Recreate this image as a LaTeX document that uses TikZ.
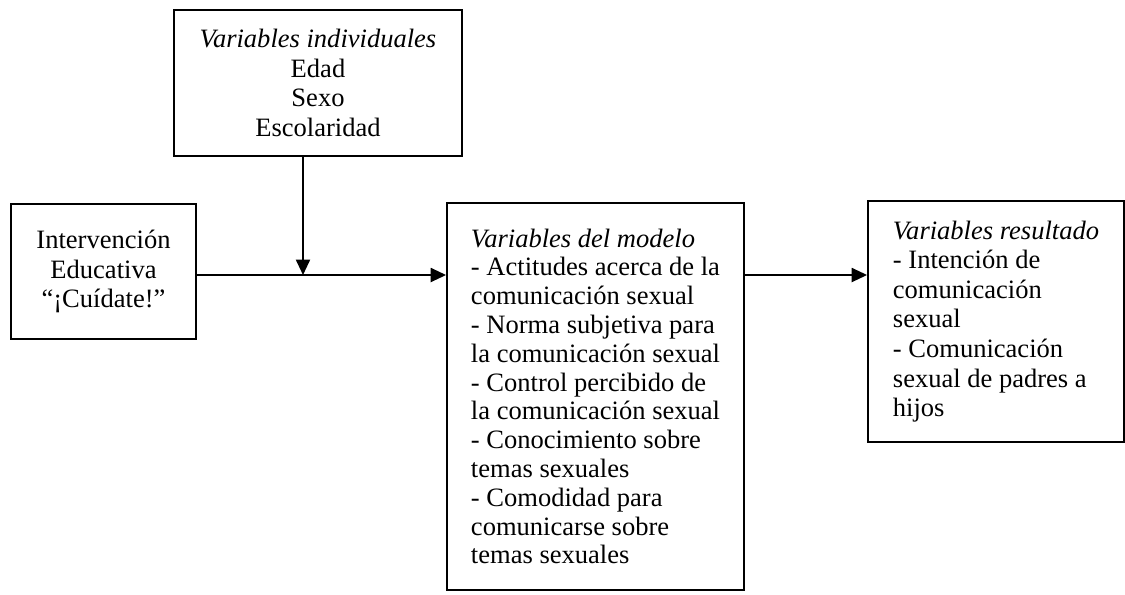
\documentclass[tikz,border=0pt]{standalone}
\usepackage{fontspec}
\setmainfont{Liberation Serif}
\usetikzlibrary{arrows.meta}

\begin{document}
\begin{tikzpicture}[x=0.75pt,y=0.75pt,yscale=-1,xscale=1,
  box/.style={draw, line width=1.4pt, inner sep=0pt, font=\fontsize{19.9pt}{22.2pt}\selectfont},
  arr/.style={line width=1.4pt, -{Triangle[length=11.5pt,width=10.5pt]}}]
\useasboundingbox (0,0) rectangle (1125,594);
% cajas
\node [box, align=center, minimum width=216pt, minimum height=109.5pt] (indiv) at (318,83) {\textit{Variables individuales}\\Edad\\Sexo\\Escolaridad};
\node [box, align=center, minimum width=138.75pt, minimum height=101.25pt] (interv) at (103.5,271.5) {Intervención\\Educativa\\“¡Cuídate!”};
\node [box, align=left, minimum width=222.75pt, minimum height=290.25pt, font=\fontsize{19.9pt}{21.6pt}\selectfont] (modelo) at (595.5,396.5) {\textit{Variables del modelo}\\- Actitudes acerca de la\\comunicación sexual\\- Norma subjetiva para\\la comunicación sexual\\- Control percibido de\\la comunicación sexual\\- Conocimiento sobre\\temas sexuales\\- Comodidad para\\comunicarse sobre\\temas sexuales};
\node [box, align=left, minimum width=192pt, minimum height=180.75pt] (result) at (996,321.5) {\textit{Variables resultado}\\- Intención de\\comunicación\\sexual\\- Comunicación\\sexual de padres a\\hijos};
% flechas
\coordinate (junc) at (303,275);
\draw [arr] (interv.east |- junc) -- (modelo.west |- junc);
\draw [arr] (indiv.south -| junc) -- (junc);
\draw [arr] (modelo.east |- junc) -- (result.west |- junc);
\end{tikzpicture}
\end{document}
